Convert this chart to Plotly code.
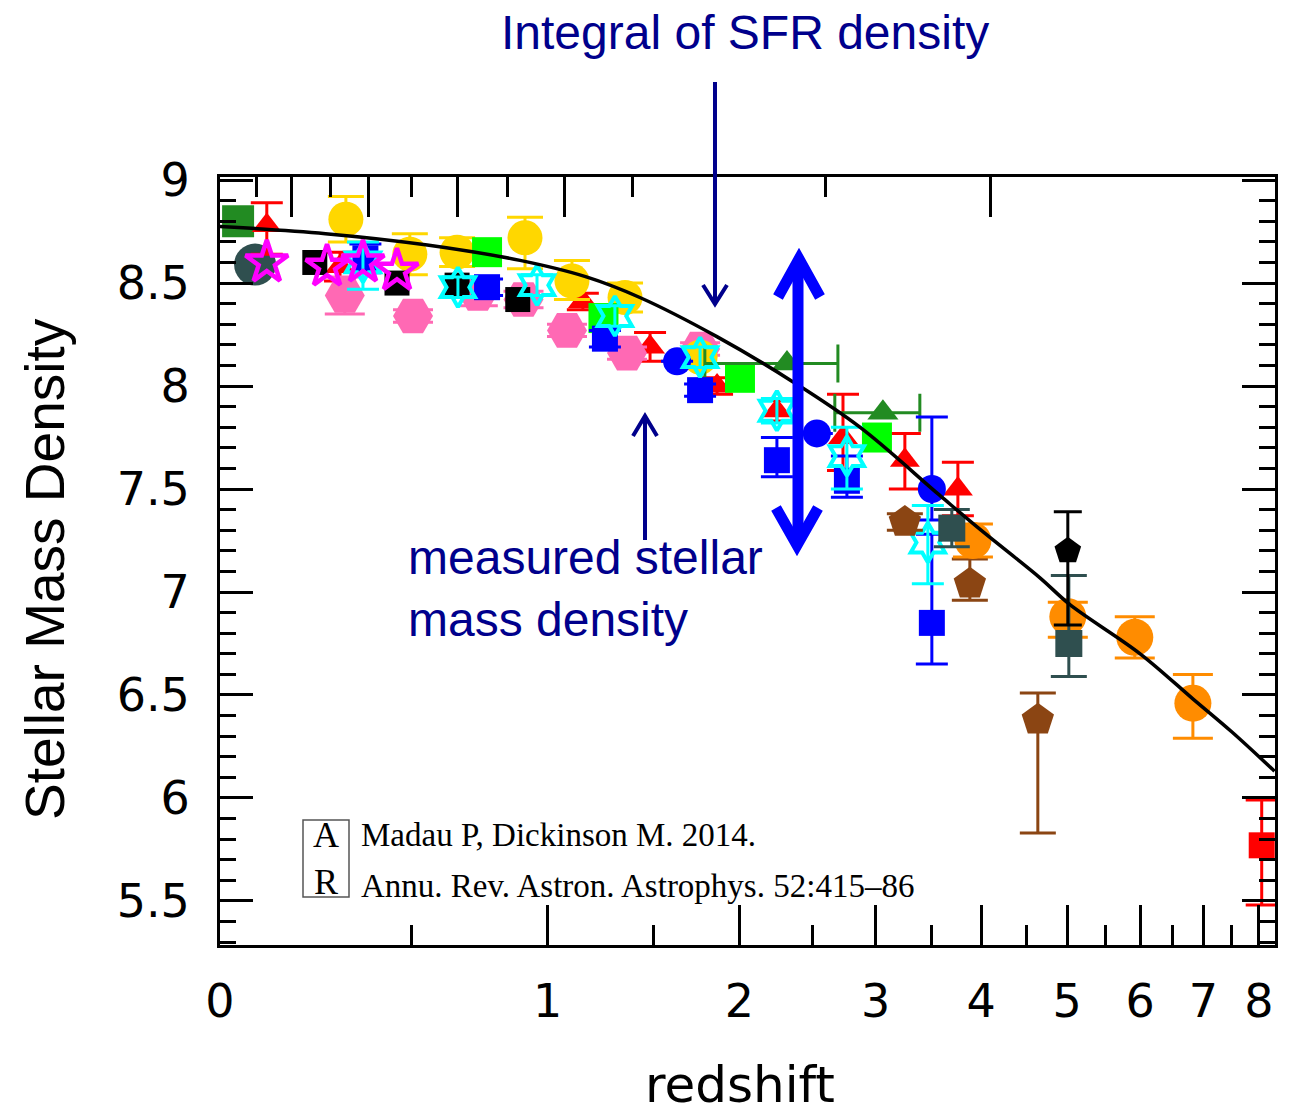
import math
import plotly.graph_objects as go

# ---------------- data (z = redshift, y = log stellar mass density) ----------------
curve_z = [0, 0.25, 0.55, 0.886, 1.17, 1.43, 1.86, 2.36, 2.87, 3.58, 4.0, 4.66, 5.03, 6.0, 6.83, 7.5, 8.3]
curve_y = [8.775, 8.74, 8.685, 8.61, 8.53, 8.43, 8.24, 8.02, 7.80, 7.47, 7.30, 7.07, 6.94, 6.70, 6.48, 6.32, 6.13]

fgreen_sq_z = [0.039]
fgreen_sq_y = [8.80]

slate_ci_z = [0.077]
slate_ci_y = [8.59]

red_tri_z = [0.104, 0.289, 1.154, 1.483, 1.861, 2.247, 2.734, 3.256, 3.761]
red_tri_y = [8.78, 8.58, 8.41, 8.19, 8.00, 7.88, 7.75, 7.64, 7.50]
red_tri_ep = [0.11, 0.07, 0.04, 0.07, 0.04, 0.05, 0.21, 0.13, 0.13]
red_tri_em = [0.14, 0.07, 0.04, 0.07, 0.04, 0.05, 0.16, 0.14, 0.13]

pink_z = [0.302, 0.504, 0.725, 0.90, 1.083, 1.365, 1.76]
pink_y = [8.44, 8.34, 8.45, 8.42, 8.27, 8.16, 8.18]
pink_ep = [0.09, 0.03, 0.05, 0.04, 0.03, 0.03, 0.03]
pink_em = [0.09, 0.03, 0.06, 0.04, 0.03, 0.03, 0.03]

gold_z = [0.305, 0.494, 0.651, 0.906, 1.105, 1.355, 1.76]
gold_y = [8.81, 8.64, 8.65, 8.72, 8.51, 8.43, 8.14]
gold_ep = [0.11, 0.10, 0.07, 0.10, 0.10, 0.07, 0.05]
gold_em = [0.11, 0.10, 0.07, 0.15, 0.09, 0.07, 0.05]

lime_z = [0.759, 1.25, 2.003, 3.012]
lime_y = [8.65, 8.33, 8.04, 7.75]

fgreen_tri_z = [2.317, 3.063]
fgreen_tri_y = [8.11, 7.87]
fgreen_tri_zp = [0.377, 0.330]
fgreen_tri_zm = [0.529, 0.393]

black_sq_z = [0.222, 0.454, 0.651, 0.877]
black_sq_y = [8.60, 8.50, 8.49, 8.42]

blue_sq_z = [0.36, 0.759, 1.257, 1.76, 2.247, 2.765, 3.506]
blue_sq_y = [8.62, 8.48, 8.23, 7.98, 7.64, 7.54, 6.85]
blue_sq_ep = [0.07, 0.04, 0.04, 0.03, 0.11, 0.12, 0.43]
blue_sq_em = [0.07, 0.04, 0.04, 0.03, 0.08, 0.08, 0.20]

blue_ci_z = [1.629, 2.533, 3.506]
blue_ci_y = [8.12, 7.77, 7.50]
blue_ci_ep = [0.0, 0.0, 0.35]
blue_ci_em = [0.0, 0.0, 0.15]

cyan_z = [0.353, 0.654, 0.955, 1.305, 1.76, 2.247, 2.765, 3.468]
cyan_y = [8.60, 8.48, 8.49, 8.34, 8.14, 7.88, 7.66, 7.24]
cyan_ep = [0.10, 0.05, 0.05, 0.05, 0.05, 0.06, 0.14, 0.18]
cyan_em = [0.13, 0.05, 0.05, 0.05, 0.05, 0.06, 0.16, 0.20]

brown_z = [3.256, 3.883, 4.638]
brown_y = [7.34, 7.04, 6.38]
brown_ep = [0.04, 0.12, 0.13]
brown_em = [0.04, 0.08, 0.55]

orange_z = [3.915, 5.007, 5.921, 6.826]
orange_y = [7.25, 6.88, 6.78, 6.46]
orange_ep = [0.08, 0.07, 0.10, 0.14]
orange_em = [0.08, 0.10, 0.10, 0.17]

slate_sq_z = [3.70, 5.02]
slate_sq_y = [7.31, 6.75]
slate_sq_ep = [0.09, 0.33]
slate_sq_em = [0.09, 0.16]

black_pent_z = [5.007]
black_pent_y = [7.20]
black_pent_ep = [0.19]
black_pent_em = [0.36]

red_sq_z = [8.052]
red_sq_y = [5.77]
red_sq_ep = [0.22]
red_sq_em = [0.29]

magenta_z = [0.104, 0.254, 0.353, 0.454]
magenta_y = [8.60, 8.58, 8.60, 8.56]

x_tick_z = [0, 1, 2, 3, 4, 5, 6, 7, 8]
x_minor_z = [0.5, 1.5, 2.5, 3.5, 4.5, 5.5, 6.5, 7.5]
top_major_z = [0.164, 0.37, 0.654, 1.07, 1.85, 4.10]
top_minor_z = [0.081, 0.262, 0.5, 0.835, 1.39, 2.60]

# ---------------- helpers ----------------
def opz(zs):
    return [1 + z for z in zs]

def err(ep, em, color, width=16):
    return dict(type='data', symmetric=False, array=ep, arrayminus=em,
                color=color, thickness=3, width=width)

fig = go.Figure()

def add(zs, ys, symbol, color, size, ep=None, em=None, ew=16, open_lw=None, ex=None):
    marker = dict(symbol=symbol, color=color, size=size, line=dict(width=0))
    if open_lw is not None:
        marker['line'] = dict(width=open_lw, color=color)
    kw = {}
    if ep is not None:
        kw['error_y'] = err(ep, em, color, ew)
    if ex is not None:
        kw['error_x'] = ex
    fig.add_trace(go.Scatter(x=opz(zs), y=ys, mode='markers', marker=marker,
                             hoverinfo='skip', **kw))

add(fgreen_sq_z, fgreen_sq_y, 'square', '#228B22', 32)
add(slate_ci_z, slate_ci_y, 'circle', '#2F4F4F', 42)
add(red_tri_z, red_tri_y, 'triangle-up', '#FF0000', 26, red_tri_ep, red_tri_em, 16)
add(pink_z, pink_y, 'hexagon2', '#FF69B4', 40, pink_ep, pink_em, 20)
add(gold_z, gold_y, 'circle', '#FFD700', 35, gold_ep, gold_em, 18)
add(lime_z, lime_y, 'square', '#00FF00', 30)
add(fgreen_tri_z, fgreen_tri_y, 'triangle-up', '#228B22', 27,
    ex=dict(type='data', symmetric=False, array=fgreen_tri_zp, arrayminus=fgreen_tri_zm,
            color='#228B22', thickness=3, width=19))
add(black_sq_z, black_sq_y, 'square', '#000000', 25)
add(blue_sq_z, blue_sq_y, 'square', '#0000FF', 26, blue_sq_ep, blue_sq_em, 16)
add(blue_ci_z, blue_ci_y, 'circle', '#0000FF', 28, blue_ci_ep, blue_ci_em, 16)
add(cyan_z, cyan_y, 'hexagram-open', '#00FFFF', 30, cyan_ep, cyan_em, 16, open_lw=4)
add(brown_z, brown_y, 'pentagon', '#8B4513', 34, brown_ep, brown_em, 18)
add(orange_z, orange_y, 'circle', '#FF8C00', 37, orange_ep, orange_em, 20)
add(slate_sq_z, slate_sq_y, 'square', '#2F4F4F', 27, slate_sq_ep, slate_sq_em, 18)
add(black_pent_z, black_pent_y, 'pentagon', '#000000', 28, black_pent_ep, black_pent_em, 14)
add(red_sq_z, red_sq_y, 'square', '#FF0000', 26, red_sq_ep, red_sq_em, 16)
add(magenta_z, magenta_y, 'star-open', '#FF00FF', 32, open_lw=4.5)

# model curve drawn on the (identical) top axis so that its ticks are rendered
fig.add_trace(go.Scatter(x=opz(curve_z), y=curve_y, mode='lines', xaxis='x2', yaxis='y',
                         line=dict(color='black', width=3.5, shape='spline'),
                         hoverinfo='skip'))

# ---------------- layout ----------------
L, R, T, B = 220, 1275, 177, 945
def fx(p):
    return (p - L) / (R - L)
def fy(p):
    return (B - p) / (B - T)

xr = [0, math.log10(9.31)]
tickfont = dict(family='DejaVu Sans', size=46, color='black')

fig.update_layout(
    width=1294, height=1115,
    margin=dict(l=L, r=1294 - R, t=T, b=1115 - B, autoexpand=False),
    paper_bgcolor='white', plot_bgcolor='white', showlegend=False,
    xaxis=dict(type='log', range=xr, tickmode='array', tickvals=opz(x_tick_z),
               ticktext=[str(v) for v in x_tick_z], ticks='inside', ticklen=40,
               tickwidth=3, tickcolor='black', showline=True, linewidth=3,
               linecolor='black', mirror=True, showgrid=False, zeroline=False,
               tickfont=tickfont, ticklabelstandoff=14,
               minor=dict(tickmode='array', tickvals=opz(x_minor_z), ticks='inside',
                          ticklen=20, tickwidth=3, tickcolor='black', showgrid=False)),
    xaxis2=dict(type='log', range=xr, overlaying='x', side='top', anchor='y',
                tickmode='array', tickvals=opz(top_major_z), ticks='inside', ticklen=40,
                tickwidth=3, tickcolor='black', showticklabels=False, showline=False,
                showgrid=False, zeroline=False,
                minor=dict(tickmode='array', tickvals=opz(top_minor_z), ticks='inside',
                           ticklen=20, tickwidth=3, tickcolor='black', showgrid=False)),
    yaxis=dict(range=[5.286, 9.015], tickmode='linear', tick0=5.5, dtick=0.5,
               ticks='inside', ticklen=33, tickwidth=3, tickcolor='black',
               showline=True, linewidth=3, linecolor='black', mirror='ticks',
               showgrid=False, zeroline=False, tickfont=tickfont, ticklabelstandoff=18,
               minor=dict(dtick=0.1, ticks='inside', ticklen=16, tickwidth=3,
                          tickcolor='black', showgrid=False)),
)

navy = '#00008C'
ann = []
ann.append(dict(text='Integral of SFR density', x=fx(745), y=fy(32), xref='paper', yref='paper',
                showarrow=False, xanchor='center', yanchor='middle',
                font=dict(family='Liberation Sans', size=48, color=navy)))
ann.append(dict(text='measured stellar<br>mass density', x=fx(406), y=fy(588), xref='paper',
                yref='paper', showarrow=False, xanchor='left', yanchor='middle', align='left',
                font=dict(family='Liberation Sans', size=48, color=navy)))
ann.append(dict(text='Stellar Mass Density', x=fx(45), y=fy(569), xref='paper', yref='paper',
                showarrow=False, xanchor='center', yanchor='middle', textangle=-90,
                font=dict(family='Liberation Sans', size=55, color='black')))
ann.append(dict(text='redshift', x=fx(740), y=fy(1085), xref='paper', yref='paper',
                showarrow=False, xanchor='center', yanchor='middle',
                font=dict(family='DejaVu Sans', size=50, color='black')))
ann.append(dict(text='Madau P, Dickinson M. 2014.', x=fx(359), y=fy(835), xref='paper',
                yref='paper', showarrow=False, xanchor='left', yanchor='middle',
                font=dict(family='Liberation Serif', size=33, color='black')))
ann.append(dict(text='Annu. Rev. Astron. Astrophys. 52:415\u201386', x=fx(359), y=fy(886),
                xref='paper', yref='paper', showarrow=False, xanchor='left', yanchor='middle',
                font=dict(family='Liberation Serif', size=33, color='black')))
ann.append(dict(text='A<br>R', x=fx(326), y=fy(858), xref='paper', yref='paper', showarrow=False,
                xanchor='center', yanchor='middle', align='center',
                font=dict(family='Liberation Serif', size=36, color='black')))
fig.update_layout(annotations=ann)

def path(points):
    return 'M ' + ' L '.join(f'{fx(a):.5f},{fy(b):.5f}' for a, b in points)

shapes = []
shapes.append(dict(type='rect', xref='paper', yref='paper', x0=fx(303), x1=fx(349),
                   y0=fy(897), y1=fy(820), line=dict(color='#555555', width=1.5)))
# thin navy arrows
shapes.append(dict(type='path', xref='paper', yref='paper', path=path([(715, 82), (715, 303)]),
                   line=dict(color=navy, width=4)))
shapes.append(dict(type='path', xref='paper', yref='paper',
                   path=path([(703, 285), (715, 304), (727, 285)]), line=dict(color=navy, width=4)))
shapes.append(dict(type='path', xref='paper', yref='paper', path=path([(645, 540), (645, 417)]),
                   line=dict(color=navy, width=4)))
shapes.append(dict(type='path', xref='paper', yref='paper',
                   path=path([(633, 436), (645, 416), (657, 436)]), line=dict(color=navy, width=4)))
# thick blue double arrow
blue = '#0000FF'
shapes.append(dict(type='path', xref='paper', yref='paper', path=path([(798, 262), (798, 542)]),
                   line=dict(color=blue, width=11)))
shapes.append(dict(type='path', xref='paper', yref='paper',
                   path=path([(778, 297), (799, 259), (820, 297)]), line=dict(color=blue, width=11)))
shapes.append(dict(type='path', xref='paper', yref='paper',
                   path=path([(776, 508), (797, 545), (818, 508)]), line=dict(color=blue, width=11)))
fig.update_layout(shapes=shapes)

fig.write_html('out.html')
